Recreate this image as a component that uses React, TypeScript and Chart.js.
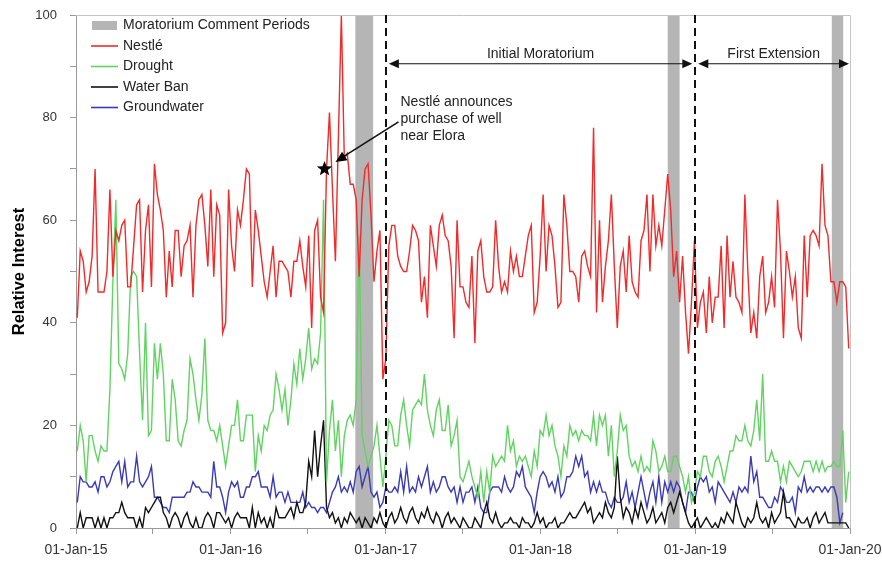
import React, { useEffect, useRef } from 'react';
import { Chart, registerables } from 'chart.js';

Chart.register(...registerables);

// ---------------- data ----------------
const AXIS_START = '2015-01-01';
const AXIS_END = '2020-01-01';
const FIRST_WEEK = '2015-01-04';

const X_TICK_DATES = [
  '2015-01-01', '2015-07-01', '2016-01-01', '2016-07-01', '2017-01-01', '2017-07-01',
  '2018-01-01', '2018-07-01', '2019-01-01', '2019-07-01', '2020-01-01',
];
const X_TICK_LABELS = ['01-Jan-15', '', '01-Jan-16', '', '01-Jan-17', '', '01-Jan-18', '', '01-Jan-19', '', '01-Jan-20'];
const Y_TICKS = [0, 10, 20, 30, 40, 50, 60, 70, 80, 90, 100];
const Y_LABELED = [0, 20, 40, 60, 80, 100];

const NESTLE = [
  41, 54, 52, 46, 48, 53, 70, 46, 46, 46, 50, 66, 49, 58, 56, 59, 60, 47, 47, 55,
  63, 64, 46, 58, 63, 47, 71, 65, 62, 58, 45, 54, 47, 58, 58, 49, 55, 56, 59, 45, 59,
  64,
  65, 59, 51, 66, 49, 63, 61, 38, 40, 66, 55, 50, 62, 59, 64, 70, 69, 47, 62, 58,
  53, 48, 45, 50, 55, 45, 52, 52, 51, 50, 45, 52, 52, 56, 51, 47, 57, 39, 58, 60, 45, 42, 70,
  81, 66, 52, 76, 100, 72, 73, 67, 67, 64, 49, 64, 70, 71, 61, 48, 54, 58, 29, 33,
  55, 59, 59, 53, 51, 50, 50, 54, 59, 58, 56, 44, 49, 41, 59, 55, 51, 59, 61, 57, 56, 51, 37,
  60, 47, 47, 44, 43, 53, 36, 54, 56, 49, 46, 46, 47, 60, 51, 46, 48, 46, 54, 50,
  53, 49, 49, 53, 57, 59, 42, 44, 53, 65, 50, 59, 57, 51, 43, 44, 65, 59, 50, 50, 49, 44, 53,
  54, 51, 49, 78, 42, 60, 44, 51, 56, 65, 51, 39, 51, 54, 46, 57, 48, 46, 45, 56,
  58, 65, 50, 65, 55, 59, 55, 62, 69, 62, 49, 54, 44, 53, 42, 34, 44, 56, 39, 44, 46, 38, 49,
  40, 45, 45, 55, 39, 57, 45, 52, 45, 44, 42, 65, 50, 38, 42, 37, 49, 53, 42, 44,
  49, 43, 64, 54, 37, 54, 50, 45, 49, 39, 37, 57, 45, 57, 58, 57, 55, 71, 59, 57,
  48, 48, 44, 48, 48, 47, 35,
];

const DROUGHT = [
  15, 20, 17, 9, 18, 18, 15, 13, 16, 15, 15, 27, 48, 64, 32, 31, 29, 34, 49, 50,
  49, 34, 21, 40, 18, 19, 36, 29, 36, 30, 17, 17, 29, 25, 17, 16, 19, 21, 33, 30,
  25, 21, 26, 37, 21, 19, 19, 17, 20, 16, 12, 16, 20, 20, 25, 17, 17, 22, 22, 22, 11, 18,
  15, 20, 19, 22, 23, 30, 27, 23, 27, 20, 25, 32, 28, 35, 29, 33, 39, 31, 33, 32, 38, 64, 9,
  19, 25, 15, 21, 10, 18, 21, 22, 20, 25, 57, 18, 15, 12, 14, 16, 20, 14, 8, 14,
  21, 20, 16, 16, 22, 25, 20, 16, 23, 24, 25, 24, 30, 23, 20, 18, 23, 25, 19, 19, 24, 16, 18,
  21, 10, 9, 11, 13, 10, 8, 6, 11, 5, 11, 7, 14, 12, 13, 14, 13, 20, 15, 17,
  12, 14, 13, 14, 12, 10, 15, 12, 19, 18, 22, 18, 20, 16, 14, 10, 16, 14, 20, 18, 19, 17, 19,
  18, 18, 17, 22, 16, 22, 20, 22, 14, 20, 10, 15, 22, 19, 20, 14, 12, 13, 11, 14,
  11, 12, 11, 17, 15, 11, 12, 14, 11, 11, 14, 14, 12, 10, 7, 10, 5, 7, 11, 10, 14, 14, 11,
  10, 13, 14, 12, 9, 12, 15, 15, 18, 17, 17, 20, 17, 16, 19, 25, 17, 30, 13, 13,
  15, 13, 13, 9, 12, 9, 13, 12, 11, 10, 11, 13, 13, 13, 11, 13, 11, 13, 11, 12,
  12, 13, 12, 12, 19, 5, 11,
];

const WATER_BAN = [
  0, 3, 0, 2, 2, 2, 0, 2, 0, 2, 0, 2, 2, 3, 3, 5, 3, 2, 2, 2,
  0, 2, 0, 4, 3, 4, 5, 6, 6, 3, 2, 0, 2, 3, 2, 0, 2, 3, 1, 0,
  2, 0, 0, 2, 3, 2, 0, 3, 3, 2, 1, 2, 0, 2, 3, 2, 2, 2,
  0, 4, 0, 3, 1, 2, 0, 2, 0, 4, 2, 2, 2, 3, 4, 2, 5, 3, 3, 5, 13, 10, 19, 10, 16, 21, 4,
  2, 3, 1, 2, 0, 2, 1, 3, 2, 1, 2, 0, 2, 1, 0, 2, 1, 3, 1, 0,
  2, 3, 1, 2, 4, 2, 1, 3, 4, 2, 1, 3, 2, 4, 2, 1, 3, 2, 0, 2, 3, 1, 2,
  1, 0, 2, 1, 0, 0, 2, 1, 0, 3, 5, 2, 1, 3, 1, 0, 1, 1, 2, 1,
  1, 0, 2, 1, 1, 0, 1, 3, 1, 2, 0, 1, 1, 2, 0, 1, 1, 2, 3, 2, 2, 3, 4,
  5, 3, 4, 1, 2, 3, 2, 5, 3, 2, 4, 14, 6, 2, 4, 3, 1, 4, 2, 5,
  3, 1, 2, 4, 1, 2, 3, 1, 4, 5, 3, 5, 7, 5, 3, 1, 0, 1, 2, 0, 1, 2, 1,
  0, 1, 0, 2, 1, 3, 2, 1, 5, 3, 1, 0, 2, 1, 2, 5, 2, 1, 2, 0,
  3, 1, 2, 3, 7, 2, 2, 1, 0, 2, 1, 1, 2, 0, 2, 3, 1, 2, 3, 1,
  1, 1, 1, 1, 1, 1, 0,
];

const GROUNDWATER = [
  5, 10, 9, 9, 8, 8, 9, 7, 10, 10, 8, 9, 11, 12, 13, 9, 13, 8, 9, 9,
  14, 9, 8, 9, 10, 12, 6, 6, 5, 4, 4, 3, 6, 6, 6, 6, 6, 7, 7, 9, 8, 8, 7,
  7, 7, 6, 13, 8, 8, 6, 3, 7, 9, 8, 9, 6, 6, 8, 8, 10, 10, 11,
  8, 8, 8, 6, 10, 6, 7, 7, 5, 7, 5, 5, 5, 5, 7, 4, 5, 4, 4, 3, 4, 4, 3,
  5, 7, 8, 10, 7, 8, 7, 9, 7, 11, 12, 8, 10, 12, 7, 6, 7, 4, 5, 8,
  7, 7, 8, 7, 11, 7, 12, 7, 8, 7, 10, 8, 10, 12, 7, 9, 7, 8, 10, 10, 8, 7, 8,
  5, 8, 5, 7, 7, 8, 5, 8, 4, 3, 3, 7, 8, 8, 8, 7, 10, 8, 7, 8,
  11, 10, 12, 8, 7, 6, 3, 7, 10, 11, 10, 8, 9, 7, 10, 6, 7, 10, 10, 11, 14, 12, 14,
  10, 11, 7, 9, 7, 9, 7, 7, 5, 4, 6, 5, 5, 6, 9, 5, 7, 4, 7, 10,
  7, 4, 7, 9, 5, 10, 5, 9, 7, 9, 7, 9, 8, 5, 3, 7, 7, 5, 8, 10, 9,
  10, 7, 8, 5, 9, 8, 7, 6, 5, 7, 5, 8, 7, 8, 7, 14, 9, 11, 6, 6,
  5, 4, 4, 6, 5, 8, 7, 5, 5, 6, 3, 8, 7, 10, 7, 8, 7, 8, 8, 7,
  8, 7, 8, 8, 6, 1, 3,
];

const COMMENT_STARTS = ['2016-10-21', '2018-10-28', '2019-11-19'];
const COMMENT_ENDS = ['2016-12-02', '2018-11-25', '2019-12-16'];
const MORATORIUM_DATES = ['2017-01-01', '2019-01-01', '2020-01-01'];
const MORATORIUM_LABELS = ['Initial Moratorium', 'First Extension'];
const ARROW_VALUE = 90.5;
const ANNOUNCE_WEEK = 84;
const ANNOUNCE_TEXT = ['Nestlé announces', 'purchase of well', 'near Elora'];

// ---------------- styles ----------------
const FONT = '"Liberation Sans", Arial, Helvetica, sans-serif';
const RED = '#f22a2a';
const GREEN = '#60d460';
const BLACK = '#111111';
const BLUE = '#3a3ab8';
const PERIOD_GRAY = '#b5b5b5';
const AXIS_GRAY = '#9a9a9a';

const toDay = (s: string) =>
  (Date.parse(s + 'T00:00:00Z') - Date.parse(AXIS_START + 'T00:00:00Z')) / 86400000;

const firstDay = toDay(FIRST_WEEK);
const series = (vals: number[]) => vals.map((v, i) => ({ x: firstDay + 7 * i, y: v }));

function arrowHead(ctx: CanvasRenderingContext2D, tx: number, ty: number, fx: number, fy: number, len = 10, half = 4.5) {
  const a = Math.atan2(ty - fy, tx - fx);
  ctx.beginPath();
  ctx.moveTo(tx, ty);
  ctx.lineTo(tx - len * Math.cos(a) + half * Math.sin(a), ty - len * Math.sin(a) - half * Math.cos(a));
  ctx.lineTo(tx - len * Math.cos(a) - half * Math.sin(a), ty - len * Math.sin(a) + half * Math.cos(a));
  ctx.closePath();
  ctx.fill();
}

function drawStar(ctx: CanvasRenderingContext2D, cx: number, cy: number, R: number, r: number) {
  ctx.beginPath();
  for (let k = 0; k < 10; k++) {
    const a = -Math.PI / 2 + (k * Math.PI) / 5;
    const rad = k % 2 === 0 ? R : r;
    ctx.lineTo(cx + rad * Math.cos(a), cy + rad * Math.sin(a));
  }
  ctx.closePath();
  ctx.fill();
}

const periodsPlugin = {
  id: 'periods',
  beforeDatasetsDraw(chart: any) {
    const { ctx, chartArea, scales } = chart;
    ctx.save();
    ctx.fillStyle = PERIOD_GRAY;
    COMMENT_STARTS.forEach((s, i) => {
      const x0 = scales.x.getPixelForValue(toDay(s));
      const x1 = scales.x.getPixelForValue(toDay(COMMENT_ENDS[i]));
      ctx.fillRect(x0, chartArea.top, x1 - x0, chartArea.bottom - chartArea.top);
    });
    ctx.restore();
  },
};

const annotationsPlugin = {
  id: 'annotations',
  afterDatasetsDraw(chart: any) {
    const { ctx, chartArea, scales } = chart;
    const xs = scales.x;
    const ys = scales.y;
    ctx.save();

    // frame (top + right)
    ctx.strokeStyle = '#c4c4c4';
    ctx.lineWidth = 1;
    ctx.beginPath();
    ctx.moveTo(chartArea.left, chartArea.top + 0.5);
    ctx.lineTo(chartArea.right + 0.5, chartArea.top + 0.5);
    ctx.lineTo(chartArea.right + 0.5, chartArea.bottom);
    ctx.stroke();

    // dashed moratorium lines
    ctx.strokeStyle = '#111';
    ctx.lineWidth = 2;
    ctx.setLineDash([8, 5]);
    MORATORIUM_DATES.slice(0, 2).forEach((d) => {
      const x = Math.round(xs.getPixelForValue(toDay(d)));
      ctx.beginPath();
      ctx.moveTo(x, chartArea.top);
      ctx.lineTo(x, chartArea.bottom);
      ctx.stroke();
    });
    ctx.setLineDash([]);

    // period arrows
    const ay = ys.getPixelForValue(ARROW_VALUE);
    ctx.fillStyle = '#111';
    ctx.strokeStyle = '#111';
    ctx.lineWidth = 1.2;
    ctx.font = `14px ${FONT}`;
    ctx.textAlign = 'center';
    ctx.textBaseline = 'middle';
    MORATORIUM_LABELS.forEach((label, i) => {
      const xa = xs.getPixelForValue(toDay(MORATORIUM_DATES[i])) + 3;
      const xb = xs.getPixelForValue(toDay(MORATORIUM_DATES[i + 1])) - (i === 1 ? 1 : 3);
      ctx.beginPath();
      ctx.moveTo(xa + 4, ay);
      ctx.lineTo(xb - 4, ay);
      ctx.stroke();
      arrowHead(ctx, xa, ay, xb, ay);
      arrowHead(ctx, xb, ay, xa, ay);
      ctx.fillStyle = '#222';
      ctx.fillText(label, (xa + xb) / 2, ay - 10);
      ctx.fillStyle = '#111';
    });

    // announcement star + arrow + text
    const sx = xs.getPixelForValue(firstDay + 7 * ANNOUNCE_WEEK);
    const sy = ys.getPixelForValue(NESTLE[ANNOUNCE_WEEK]);
    ctx.fillStyle = '#000';
    drawStar(ctx, sx - 2, sy, 8, 3.4);
    const tipX = sx + 9, tipY = sy - 7;
    const tailX = sx + 72, tailY = sy - 47;
    ctx.lineWidth = 1.6;
    ctx.beginPath();
    ctx.moveTo(tailX, tailY);
    ctx.lineTo(tipX + 6, tipY - 4);
    ctx.stroke();
    arrowHead(ctx, tipX, tipY, tailX, tailY, 11, 5);
    ctx.fillStyle = '#222';
    ctx.textAlign = 'left';
    ANNOUNCE_TEXT.forEach((t, i) => {
      ctx.fillText(t, sx + 74, sy - 67 + i * 17);
    });

    // legend
    const items = [
      { label: 'Moratorium Comment Periods', color: PERIOD_GRAY, bar: true },
      { label: 'Nestlé', color: RED, bar: false },
      { label: 'Drought', color: GREEN, bar: false },
      { label: 'Water Ban', color: BLACK, bar: false },
      { label: 'Groundwater', color: BLUE, bar: false },
    ];
    items.forEach((it, i) => {
      const y = chartArea.top + 10.5 + i * 20.5;
      const x0 = chartArea.left + 15;
      if (it.bar) {
        ctx.fillStyle = it.color;
        ctx.fillRect(x0 + 1, y - 4.5, 25, 9);
      } else {
        ctx.strokeStyle = it.color;
        ctx.lineWidth = 1.6;
        ctx.beginPath();
        ctx.moveTo(x0, y);
        ctx.lineTo(x0 + 27, y);
        ctx.stroke();
      }
      ctx.fillStyle = '#222';
      ctx.fillText(it.label, x0 + 32, y);
    });

    ctx.restore();
  },
};

export default function App() {
  const canvasRef = useRef<HTMLCanvasElement | null>(null);

  useEffect(() => {
    if (!canvasRef.current) return;
    const line = (label: string, vals: number[], color: string) => ({
      label,
      data: series(vals),
      borderColor: color,
      backgroundColor: color,
      borderWidth: 1.4,
      pointRadius: 0,
      tension: 0,
      fill: false,
    });
    const chart = new Chart(canvasRef.current, {
      type: 'line',
      data: {
        datasets: [
          line('Nestlé', NESTLE, RED),
          line('Drought', DROUGHT, GREEN),
          line('Water Ban', WATER_BAN, BLACK),
          line('Groundwater', GROUNDWATER, BLUE),
        ],
      },
      options: {
        animation: false,
        responsive: false,
        devicePixelRatio: 1,
        layout: { padding: { left: 0, right: 32, top: 15, bottom: 0 } },
        plugins: { legend: { display: false }, tooltip: { enabled: false } },
        scales: {
          x: {
            type: 'linear',
            min: 0,
            max: toDay(AXIS_END),
            afterBuildTicks: (s: any) => {
              s.ticks = X_TICK_DATES.map((d) => ({ value: toDay(d) }));
            },
            afterFit: (s: any) => {
              s.height = 34;
              s.paddingLeft = 0;
              s.paddingRight = 0;
            },
            ticks: {
              autoSkip: false,
              maxRotation: 0,
              minRotation: 0,
              padding: 8,
              color: '#333',
              font: { family: FONT, size: 14 },
              callback: (_v: any, i: number) => X_TICK_LABELS[i],
            },
            grid: { drawOnChartArea: false, drawTicks: true, tickLength: 6, color: AXIS_GRAY },
            border: { display: true, color: AXIS_GRAY },
          },
          y: {
            type: 'linear',
            min: 0,
            max: 100,
            afterBuildTicks: (s: any) => {
              s.ticks = Y_TICKS.map((v) => ({ value: v }));
            },
            afterFit: (s: any) => {
              s.width = 76;
              s.paddingTop = 0;
              s.paddingBottom = 0;
            },
            ticks: {
              autoSkip: false,
              padding: 13,
              color: '#333',
              font: { family: FONT, size: 13 },
              callback: (v: any) => (Y_LABELED.includes(Number(v)) ? String(v) : ''),
            },
            title: {
              display: true,
              text: 'Relative Interest',
              color: '#000',
              font: { family: FONT, size: 16.5, weight: 'bold' },
              padding: { top: 10, bottom: 0 },
            },
            grid: { drawOnChartArea: false, drawTicks: true, tickLength: 6, color: AXIS_GRAY },
            border: { display: true, color: AXIS_GRAY },
          },
        },
      },
      plugins: [periodsPlugin, annotationsPlugin],
    } as any);
    return () => chart.destroy();
  }, []);

  return (
    <div style={{ position: 'absolute', left: 0, top: 0, width: 882, height: 562, background: '#fff' }}>
      <canvas ref={canvasRef} width={882} height={562} style={{ width: 882, height: 562, display: 'block' }} />
    </div>
  );
}
